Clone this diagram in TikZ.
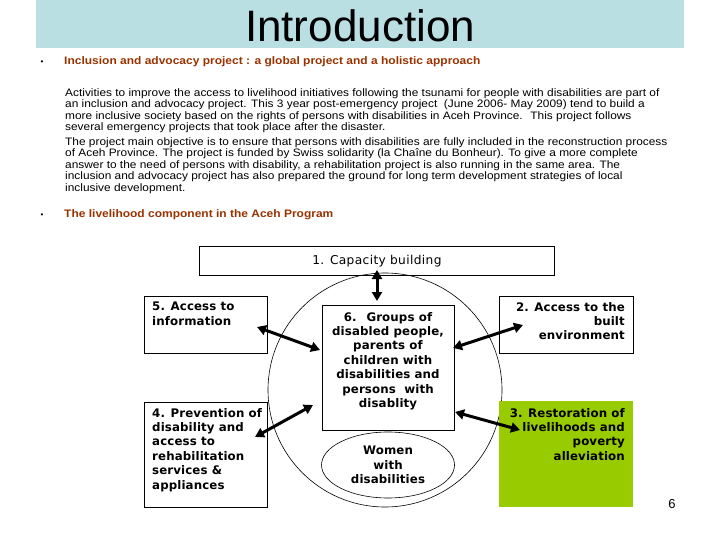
\documentclass[tikz,border=0pt]{standalone}
\usepackage{fontspec}
\setmainfont{Liberation Sans}
\newfontfamily\narrowfont[FakeStretch=1.1]{Liberation Sans}
\newfontfamily\boxfont[LetterSpace=1]{DejaVu Sans}
\newfontfamily\boxfontr[LetterSpace=3]{DejaVu Sans}
\usetikzlibrary{arrows.meta,shapes.geometric}
\definecolor{titlebg}{HTML}{B9DFE3}
\definecolor{leafgreen}{HTML}{99CC00}
\definecolor{headbrown}{HTML}{993300}
\begin{document}
\begin{tikzpicture}[x=1pt,y=-1pt,
  frame/.style={draw=black, line width=0.9pt, inner sep=0pt, anchor=north west},
  boxtxt/.style={inner sep=0pt, font=\boxfont\bfseries\fontsize{11.8}{14.4}\selectfont},
  head/.style={inner sep=0pt, anchor=west, text=headbrown, font=\narrowfont\bfseries\fontsize{10.9}{13}\selectfont},
  bul/.style={inner sep=0pt, font=\fontsize{8}{9}\selectfont},
  para/.style={inner sep=0pt, anchor=north west, align=left, font=\narrowfont\fontsize{10.8}{11.6}\selectfont},
  dbl/.style={line width=3pt, {Triangle[length=9pt,width=10pt]}-{Triangle[length=9pt,width=10pt]}}]
\useasboundingbox (0,0) rectangle (720,540);
\fill[white] (0,0) rectangle (720,540);
% title band
\fill[titlebg] (36,0) rectangle (684,48);
\node[inner sep=0pt, font=\fontsize{44}{48}\selectfont] (title) at (360,26) {Introduction};
% headings
\node[bul] (bul1) at (42,63) {•};
\node[head] (h1) at (64,62) {Inclusion and advocacy project : a global project and a holistic approach};
\node[para] (p1) at (65,88) {Activities to improve the access to livelihood initiatives following the tsunami for people with disabilities are part of\\
an inclusion and advocacy project. This 3 year post-emergency project \ (June 2006- May 2009) tend to build a\\
more inclusive society based on the rights of persons with disabilities in Aceh Province. \ This project follows\\
several emergency projects that took place after the disaster.};
\node[para] (p2) at (65,137) {The project main objective is to ensure that persons with disabilities are fully included in the reconstruction process\\
of Aceh Province. The project is funded by Swiss solidarity (la Chaîne du Bonheur). To give a more complete\\
answer to the need of persons with disability, a rehabilitation project is also running in the same area. The\\
inclusion and advocacy project has also prepared the ground for long term development strategies of local\\
inclusive development.};
\node[bul] (bul2) at (42,216) {•};
\node[head] (h2) at (64,215) {The livelihood component in the Aceh Program};
% ring
\node[circle, draw=black, line width=0.6pt, minimum size=234pt, inner sep=0pt] (ring) at (385,390) {};
% boxes
\node[frame, minimum width=355pt, minimum height=29pt, font=\boxfontr\fontsize{12.2}{14}\selectfont] (b1) at (199,246) {1. Capacity building};
\node[frame, minimum width=123pt, minimum height=57pt] (b5) at (144,296) {};
\node[boxtxt, anchor=north west, align=left] (t5) at (152,302) {5. Access to\\information};
\node[frame, minimum width=123pt, minimum height=105pt] (b4) at (144,402) {};
\node[boxtxt, anchor=north west, align=left] (t4) at (152,408) {4. Prevention of\\disability and\\access to\\rehabilitation\\services \&\\appliances};
\node[frame, minimum width=132pt, minimum height=125pt] (b6) at (322,305) {};
\node[boxtxt, anchor=north, align=center] (t6) at (388,312) {6. \ Groups of\\disabled people,\\parents of\\children with\\disabilities and\\persons \ with\\disablity};
\node[frame, minimum width=134pt, minimum height=57pt] (b2) at (499,296) {};
\node[boxtxt, anchor=north east, align=right] (t2) at (625,302) {2. Access to the\\built\\environment};
\node[fill=leafgreen, inner sep=0pt, anchor=north west, minimum width=134pt, minimum height=106pt] (b3) at (499,401) {};
\node[boxtxt, anchor=north east, align=right] (t3) at (625,408) {3. Restoration of\\livelihoods and\\poverty\\alleviation};
\node[ellipse, draw=black, line width=0.6pt, minimum width=133pt, minimum height=66pt, inner sep=0pt, align=center, font=\boxfont\bfseries\fontsize{11.8}{14.5}\selectfont] (women) at (388,465) {Women\\with\\disabilities};
% connector ends
\coordinate (a1) at (377,270);
\coordinate (a6t) at (377,301);
\coordinate (a5) at (257,327);
\coordinate (a6a) at (320,350);
\coordinate (a4) at (255,437);
\coordinate (a6b) at (313,405);
\coordinate (a2) at (523,325);
\coordinate (a6c) at (453,348);
\coordinate (a3) at (520,430);
\coordinate (a6d) at (455,412);
\draw[dbl] (a1) -- (a6t);
\draw[dbl] (a5) -- (a6a);
\draw[dbl] (a4) -- (a6b);
\draw[dbl] (a6c) -- (a2);
\draw[dbl] (a6d) -- (a3);
% page number
\node[inner sep=0pt, font=\fontsize{13}{14}\selectfont] (pg) at (672,504) {6};
\end{tikzpicture}
\end{document}
